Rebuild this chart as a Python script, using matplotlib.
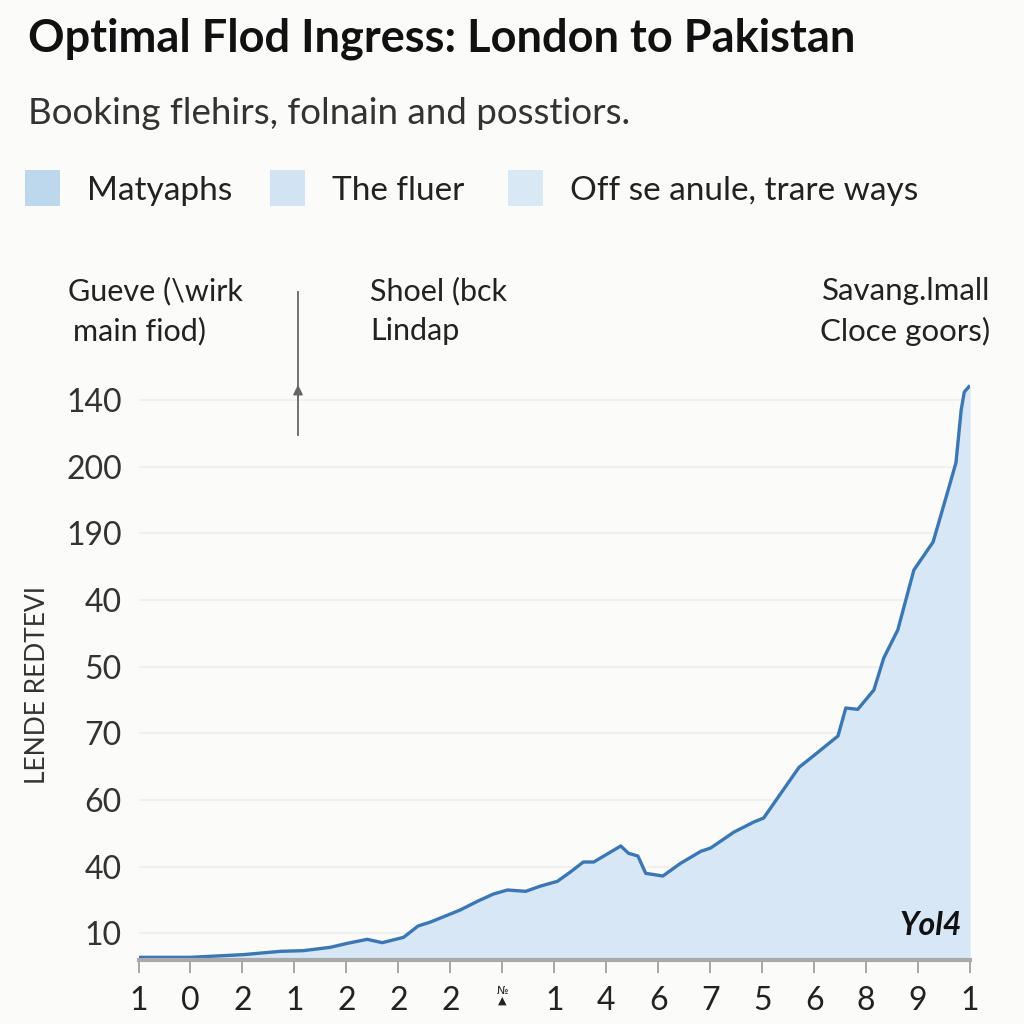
import matplotlib
matplotlib.use("Agg")
import matplotlib.pyplot as plt
from matplotlib.patches import Rectangle, FancyArrowPatch

plt.rcParams["font.family"] = ["Lato", "DejaVu Sans"]

# --- data (y in tick-slot units) ---
x_labels = ["1", "0", "2", "1", "2", "2", "2", "№\n▲", "1", "4", "6", "7", "5", "6", "8", "9", "1"]
y_labels = ["10", "40", "60", "70", "50", "40", "190", "200", "140"]
legend_labels = ["Matyaphs", "The fluer", "Off se anule, trare ways"]
legend_colors = ["#bdd7ed", "#d2e4f3", "#d9e8f5"]

x_pos = [0.0, 0.99, 2.01, 2.73, 3.17, 3.69, 4.02, 4.40, 4.69, 5.10, 5.38, 5.62,
         6.19, 6.52, 6.83, 7.10, 7.45, 7.74, 8.06, 8.31, 8.56, 8.76, 9.28, 9.43,
         9.61, 9.76, 10.09, 10.43, 10.82, 11.01, 11.46, 11.84, 12.03, 12.36,
         12.71, 13.00, 13.46, 13.61, 13.84, 14.15, 14.34, 14.61, 14.92, 15.29,
         15.58, 15.73, 15.83, 15.89, 15.98]
level = [-0.36, -0.36, -0.32, -0.27, -0.26, -0.21, -0.15, -0.09, -0.14, -0.06,
         0.11, 0.17, 0.35, 0.48, 0.59, 0.65, 0.63, 0.71, 0.78, 0.92, 1.07, 1.07,
         1.31, 1.20, 1.16, 0.90, 0.86, 1.05, 1.23, 1.28, 1.52, 1.67, 1.73, 2.10,
         2.49, 2.67, 2.96, 3.38, 3.36, 3.65, 4.13, 4.55, 5.45, 5.87, 6.65, 7.06,
         7.85, 8.12, 8.20]

BG = "#fbfbf9"
LINE = "#3b76b5"
FILL = "#d7e7f5"
TXT = "#222222"

fig = plt.figure(figsize=(10.24, 10.24), dpi=100, facecolor=BG)

# titles
fig.text(0.027, 0.962, "Optimal Flod Ingress: London to Pakistan", fontsize=32.5,
         fontweight="bold", color="#111111", va="center")
fig.text(0.027, 0.889, "Booking flehirs, folnain and posstiors.", fontsize=26.5,
         color="#333333", va="center")

# legend row
leg_x = [25, 270, 508]
for lx, lab, col in zip(leg_x, legend_labels, legend_colors):
    fig.patches.append(Rectangle((lx / 1024, 1 - 206 / 1024), 35 / 1024, 36 / 1024,
                                 transform=fig.transFigure, facecolor=col, edgecolor="none"))
    fig.text((lx + 62) / 1024, 1 - 191 / 1024, lab, fontsize=24, color=TXT, va="center")

# annotations above the plot
fig.text(68 / 1024, 1 - 291 / 1024, "Gueve (\\wirk", fontsize=22, color=TXT, va="center")
fig.text(73 / 1024, 1 - 331 / 1024, "main fiod)", fontsize=22, color=TXT, va="center")
fig.text(370 / 1024, 1 - 291 / 1024, "Shoel (bck", fontsize=22, color=TXT, va="center")
fig.text(370 / 1024, 1 - 331 / 1024, "Lindap", fontsize=22, color=TXT, va="center")
fig.text(990 / 1024, 1 - 291 / 1024, "Savang.lmall", fontsize=22.5, color=TXT,
         va="center", ha="right")
fig.text(990 / 1024, 1 - 331 / 1024, "Cloce goors)", fontsize=22.5, color=TXT,
         va="center", ha="right")

# vertical arrow
fig.add_artist(plt.Line2D([298 / 1024, 298 / 1024], [1 - 292 / 1024, 1 - 435 / 1024],
                          transform=fig.transFigure, color="#666666", lw=1.3))
fig.add_artist(FancyArrowPatch(
    (298 / 1024, 1 - 400 / 1024), (298 / 1024, 1 - 382 / 1024),
    transform=fig.transFigure, arrowstyle="-|>", mutation_scale=14, color="#666666", lw=1.3))

# main axes
ax = fig.add_axes([138.5 / 1024, 1 - 960 / 1024, (970 - 138.5) / 1024, (960 - 380) / 1024])
ax.set_facecolor(BG)
ax.set_xlim(0, 16)
ax.set_ylim(-0.4, 8.3)

ax.fill_between(x_pos + [16], level + [level[-1]], -0.4, color=FILL, lw=0)
ax.plot(x_pos, level, color=LINE, lw=2.4, solid_joinstyle="round")

ax.set_yticks(range(len(y_labels)))
ax.set_yticklabels(y_labels, fontsize=23, color="#333333")
ax.tick_params(axis="y", length=0, pad=12)
ax.set_xticks(range(len(x_labels)))
ax.set_xticklabels(x_labels, fontsize=23, color=TXT)
ax.tick_params(axis="x", length=9, width=1.2, color="#999999", pad=10)
for t in ax.get_xticklabels():
    if t.get_text().startswith("№"):
        t.set_fontsize(8)
        t.set_family("DejaVu Sans")
        t.set_linespacing(0.9)

ax.grid(axis="y", color="#eeeeee", lw=1.2)
ax.set_axisbelow(True)
for s in ["top", "right", "left"]:
    ax.spines[s].set_visible(False)
ax.spines["bottom"].set_color("#aaaaaa")
ax.spines["bottom"].set_linewidth(3)

ax.text(0.99, 0.035, "Yol4", transform=ax.transAxes, fontsize=23, fontweight="bold",
        fontstyle="italic", ha="right", va="bottom", color="#111111")

fig.text(38 / 1024, 1 - 685 / 1024, "LENDE REDTEVI", rotation=90, fontsize=19,
         color="#333333", va="center", ha="center")

fig.savefig("out.png", dpi=100, facecolor=BG)
